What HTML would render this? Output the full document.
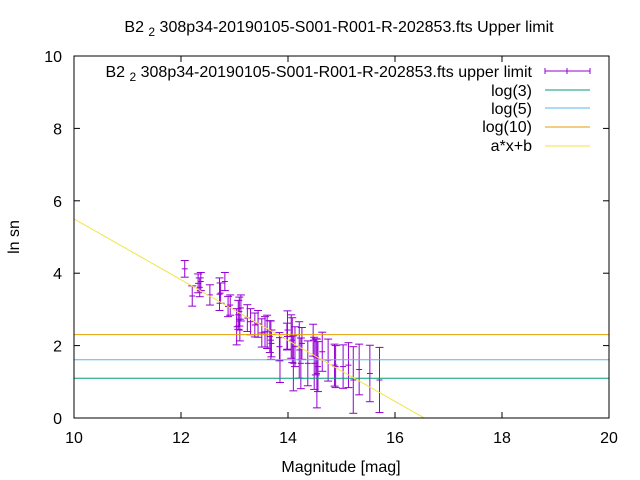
<!DOCTYPE html>
<html><head><meta charset="utf-8">
<style>
html,body{margin:0;padding:0;background:#fff;width:640px;height:480px;overflow:hidden;}
svg{display:block;font-family:"Liberation Sans",sans-serif;}
</style></head>
<body>
<svg id="chart" width="640" height="480" viewBox="0 0 640 480" xmlns="http://www.w3.org/2000/svg">
<rect width="640" height="480" fill="#fff"/>
<text x="339" y="32" font-size="16" text-anchor="middle">B2 <tspan dy="4" font-size="12">2</tspan><tspan dy="-4"> 308p34-20190105-S001-R001-R-202853.fts Upper limit</tspan></text>
<text x="19" y="237" font-size="16" text-anchor="middle" transform="rotate(-90 19 237)">ln sn</text>
<text x="341" y="472" font-size="16" text-anchor="middle">Magnitude [mag]</text>
<g id="ticks"></g>
<g id="clip-area"></g>
<rect x="74" y="56" width="535" height="362" fill="none" stroke="#000" stroke-width="1"/>
<g id="legend" font-size="16" text-anchor="end">
<text x="532" y="77">B2 <tspan dy="4" font-size="12">2</tspan><tspan dy="-4"> 308p34-20190105-S001-R001-R-202853.fts upper limit</tspan></text>
<g stroke="#9400d3" stroke-width="1">
<line x1="545" y1="71" x2="590" y2="71"/><line x1="545" y1="68" x2="545" y2="74"/><line x1="590" y1="68" x2="590" y2="74"/><line x1="567" y1="68" x2="567" y2="74"/></g>
<text x="532" y="96">log(3)</text>
<line x1="545" y1="90" x2="590" y2="90" stroke="#009e73"/>
<text x="532" y="114">log(5)</text>
<line x1="545" y1="108" x2="590" y2="108" stroke="#56b4e9"/>
<text x="532" y="132">log(10)</text>
<line x1="545" y1="127" x2="590" y2="127" stroke="#e69f00"/>
<text x="532" y="151">a*x+b</text>
<line x1="545" y1="146" x2="590" y2="146" stroke="#f0e442"/>
</g>
</svg>
<script>
const xTicks=[10,12,14,16,18,20];
const yTicks=[0,2,4,6,8,10];
const mags=[12.07,12.21,12.32,12.35,12.37,12.54,12.72,12.74,12.82,12.88,12.92,13.04,13.07,13.09,13.12,13.10,13.24,13.30,13.38,13.44,13.51,13.57,13.61,13.66,13.68,13.69,13.84,13.85,13.98,13.99,14.06,14.08,14.10,14.13,14.21,14.24,14.26,14.37,14.47,14.49,14.52,14.54,14.56,14.64,14.75,14.87,14.89,15.03,15.13,15.22,15.33,15.53,15.71];
const sn=[4.12,3.37,3.72,3.61,3.77,3.40,3.42,3.45,3.77,3.08,3.12,2.52,2.85,2.94,3.04,2.43,2.76,2.66,2.57,2.60,2.35,2.38,2.38,2.25,2.15,2.06,1.97,1.60,2.25,2.43,2.25,2.15,1.51,1.97,1.88,1.51,2.06,1.51,2.15,1.51,1.69,1.23,1.42,1.83,1.60,1.46,1.42,1.42,1.46,1.05,1.34,1.23,1.05];
const errs=[0.23,0.28,0.26,0.26,0.25,0.28,0.45,0.28,0.25,0.28,0.28,0.5,0.4,0.4,0.36,0.3,0.37,0.36,0.33,0.37,0.39,0.42,0.46,0.44,0.53,0.37,0.39,0.62,0.37,0.53,0.6,0.62,0.76,0.55,0.78,0.7,0.44,0.62,0.44,0.72,0.5,0.95,0.69,0.54,0.58,0.58,0.58,0.6,0.62,0.92,0.7,0.78,0.9];
const hLines=[Math.log(3),Math.log(5),Math.log(10)];
const hColors=["#009e73","#56b4e9","#e69f00"];
const fitA=-0.84, fitB=13.9;
const NS="http://www.w3.org/2000/svg";
const X0=74,X1=609,Y0=418,Y1=56;
const sx=v=>X0+(v-10)/10*(X1-X0);
const sy=v=>Y0-(v-0)/10*(Y0-Y1);
function mk(tag,attrs,parent){const e=document.createElementNS(NS,tag);for(const k in attrs)e.setAttribute(k,attrs[k]);parent.appendChild(e);return e;}
const ticks=document.getElementById('ticks');
xTicks.forEach(t=>{
 const g=mk('g',{},ticks);
 
 
 mk('line',{x1:sx(t),y1:Y0,x2:sx(t),y2:Y0-6,stroke:'#000'},g);
 mk('line',{x1:sx(t),y1:Y1,x2:sx(t),y2:Y1+6,stroke:'#000'},g);
 const tx=mk('text',{x:sx(t),y:Y0+25,'font-size':16,'text-anchor':'middle'},g);tx.textContent=t;
});
yTicks.forEach(t=>{
 const g=mk('g',{},ticks);
 
 
 mk('line',{x1:X0,y1:sy(t),x2:X0+6,y2:sy(t),stroke:'#000'},g);
 mk('line',{x1:X1,y1:sy(t),x2:X1-6,y2:sy(t),stroke:'#000'},g);
 const tx=mk('text',{x:X0-12,y:sy(t)+6,'font-size':16,'text-anchor':'end'},g);tx.textContent=t;
});
const area=document.getElementById('clip-area');
const cp=mk('clipPath',{id:'pc'},area);mk('rect',{x:X0,y:Y1,width:X1-X0,height:Y0-Y1},cp);
const pg=mk('g',{'clip-path':'url(#pc)'},area);
mags.forEach((m,i)=>{
 const g=mk('g',{stroke:'#9400d3','stroke-width':1},pg);
 
 
 const x=sx(m),yl=sy(sn[i]-errs[i]),yh=sy(sn[i]+errs[i]);
 mk('line',{x1:x,y1:yl,x2:x,y2:yh},g);
 mk('line',{x1:x-4,y1:yl,x2:x+4,y2:yl},g);
 mk('line',{x1:x-4,y1:yh,x2:x+4,y2:yh},g);
 mk('line',{x1:x-3,y1:sy(sn[i]),x2:x+3,y2:sy(sn[i])},g);
});
hLines.forEach((v,i)=>{
 const l=mk('line',{x1:X0,y1:sy(v),x2:X1,y2:sy(v),stroke:hColors[i]},pg);
 
 
});
const fl=mk('line',{x1:sx(10),y1:sy(fitA*10+fitB),x2:sx(20),y2:sy(fitA*20+fitB),stroke:'#f0e442'},pg);


</script>
</body></html>
